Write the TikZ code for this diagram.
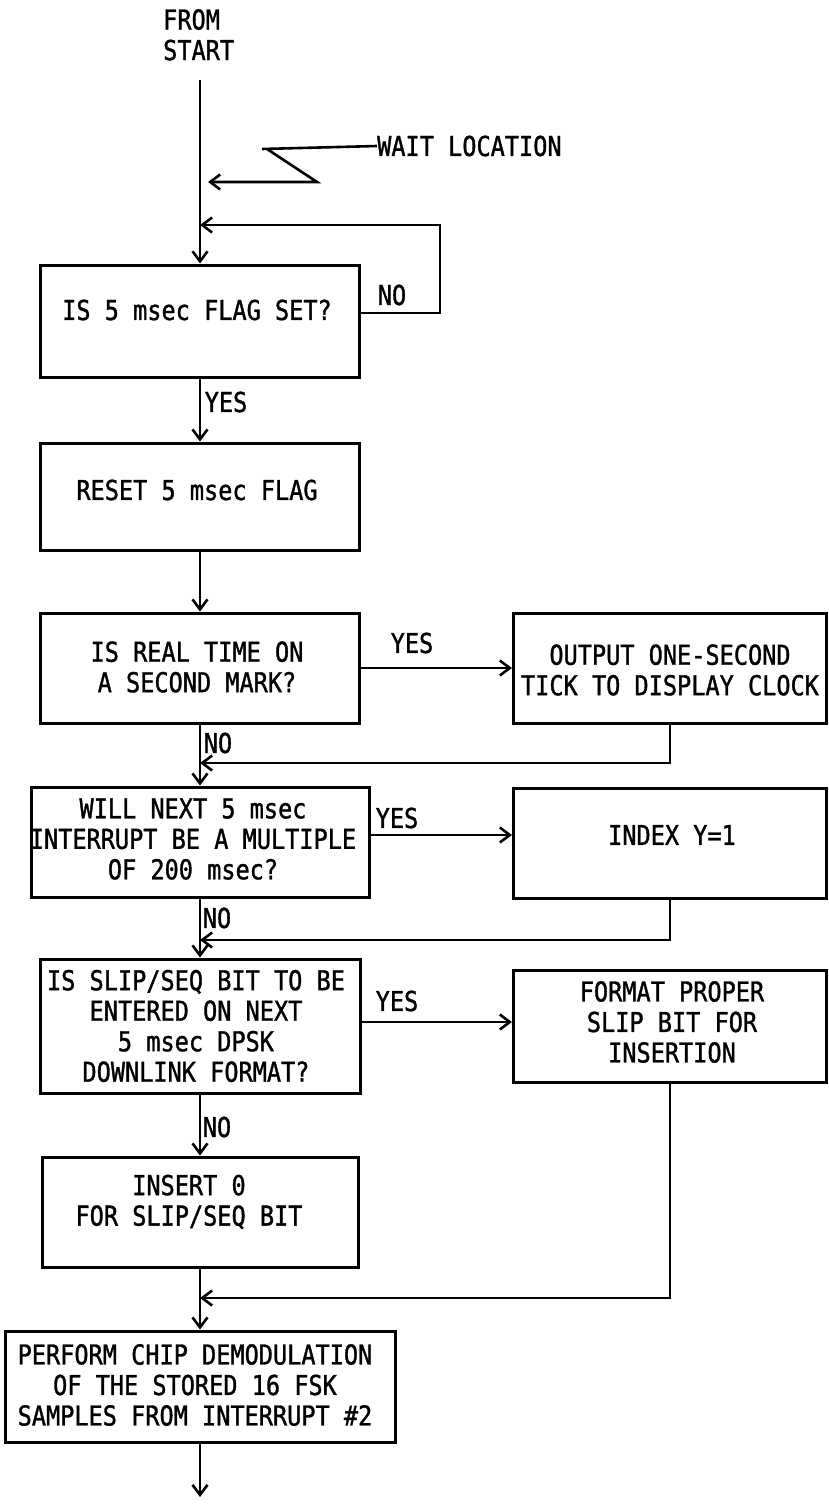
\documentclass[tikz,border=0pt]{standalone}
\usepackage{fontspec}
\newfontfamily\lfont[FakeStretch=0.86,FakeBold=1.2]{DejaVu Sans Mono}
\usetikzlibrary{arrows.meta,calc}
\begin{document}
\begin{tikzpicture}[x=1pt,y=-1pt,
  flowbox/.style={draw,line width=3pt,inner sep=0pt},
  lbl/.style={inner sep=0pt,font=\lfont\fontsize{27.4}{30.5}\selectfont,align=center},
  conn/.style={line width=2.6pt},
  arr/.style={conn,-{Straight Barb[length=10pt,width=15pt,line width=2.6pt]}}]
\useasboundingbox (0,0) rectangle (829,1504);
% boxes
\node[flowbox,minimum width=319pt,minimum height=112pt] (b1) at (200,321) {};
\node[flowbox,minimum width=319pt,minimum height=107pt] (b2) at (200,496.5) {};
\node[flowbox,minimum width=319pt,minimum height=110pt] (b3) at (200,668) {};
\node[flowbox,minimum width=313pt,minimum height=110pt] (b4) at (670,668) {};
\node[flowbox,minimum width=338pt,minimum height=110pt] (b5) at (200,842) {};
\node[flowbox,minimum width=313pt,minimum height=110pt] (b6) at (670,843) {};
\node[flowbox,minimum width=320pt,minimum height=134pt] (b7) at (200,1026) {};
\node[flowbox,minimum width=313pt,minimum height=112pt] (b8) at (670,1026) {};
\node[flowbox,minimum width=316pt,minimum height=110pt] (b9) at (200,1212) {};
\node[flowbox,minimum width=390pt,minimum height=111pt] (b10) at (200,1386.5) {};
% texts in boxes
\node[lbl] (t1) at (197,310) {IS 5 msec FLAG SET?};
\node[lbl] (t2) at (197,490) {RESET 5 msec FLAG};
\node[lbl] (t3) at (197,667) {IS REAL TIME ON\\A SECOND MARK?};
\node[lbl] (t4) at (670,670) {OUTPUT ONE-SECOND\\TICK TO DISPLAY CLOCK};
\node[lbl] (t5) at (193,839) {WILL NEXT 5 msec\\INTERRUPT BE A MULTIPLE\\OF 200 msec?};
\node[lbl] (t6) at (672,835) {INDEX Y=1};
\node[lbl] (t7) at (196,1026) {IS SLIP/SEQ BIT TO BE\\ENTERED ON NEXT\\5 msec DPSK\\DOWNLINK FORMAT?};
\node[lbl] (t8) at (672,1022) {FORMAT PROPER\\SLIP BIT FOR\\INSERTION};
\node[lbl] (t9) at (189,1202) {INSERT 0\\FOR SLIP/SEQ BIT};
\node[lbl] (t10) at (195,1385) {PERFORM CHIP DEMODULATION\\OF THE STORED 16 FSK\\SAMPLES FROM INTERRUPT \#2};
% top
\node[lbl,align=left,anchor=north west] (fs) at (163,9) {FROM\\START};
\coordinate (s) at (200,80);
\node[lbl,anchor=west] (wl) at (377,146) {WAIT LOCATION};
\coordinate (w1) at (262,149);
\coordinate (w2) at (267,149);
\coordinate (w3) at (317,182);
\coordinate (w4) at (208,182);
\draw[conn] (w1) -- (wl.west);
\draw[arr] (w2) -- (w3) -- (w4);
\draw[arr] (s) -- (b1.north);
% loop
\coordinate (l1) at (440,313);
\coordinate (l2) at (440,225);
\coordinate (j1) at (200,225);
\draw[arr] (b1.east |- l1) -- (l1) -- (l2) -- (j1);
\node[lbl] (n1) at (392,295) {NO};
% main flow
\draw[arr] (b1.south) -- (b2.north);
\node[lbl] (y1) at (226,402) {YES};
\draw[arr] (b2.south) -- (b3.north);
\draw[arr] (b3.east) -- (b4.west);
\node[lbl] (y2) at (412,643) {YES};
\coordinate (j2) at (200,763);
\draw[arr] (b4.south) |- (j2);
\draw[arr] (b3.south) -- (b5.north);
\node[lbl] (n2) at (218,743) {NO};
\coordinate (ya) at (0,835);
\draw[arr] (b5.east |- ya) -- (b6.west |- ya);
\node[lbl] (y3) at (397,818) {YES};
\coordinate (j3) at (200,940);
\draw[arr] (b6.south) |- (j3);
\draw[arr] (b5.south) -- (b7.north);
\node[lbl] (n3) at (217,918) {NO};
\coordinate (yb) at (0,1022);
\draw[arr] (b7.east |- yb) -- (b8.west |- yb);
\node[lbl] (y4) at (397,1001) {YES};
\draw[arr] (b7.south) -- (b9.north);
\node[lbl] (n4) at (217,1127) {NO};
\coordinate (j4) at (200,1298);
\draw[arr] (b8.south) |- (j4);
\draw[arr] (b9.south) -- (b10.north);
\coordinate (e) at (200,1497);
\draw[arr] (b10.south) -- (e);
\end{tikzpicture}
\end{document}
